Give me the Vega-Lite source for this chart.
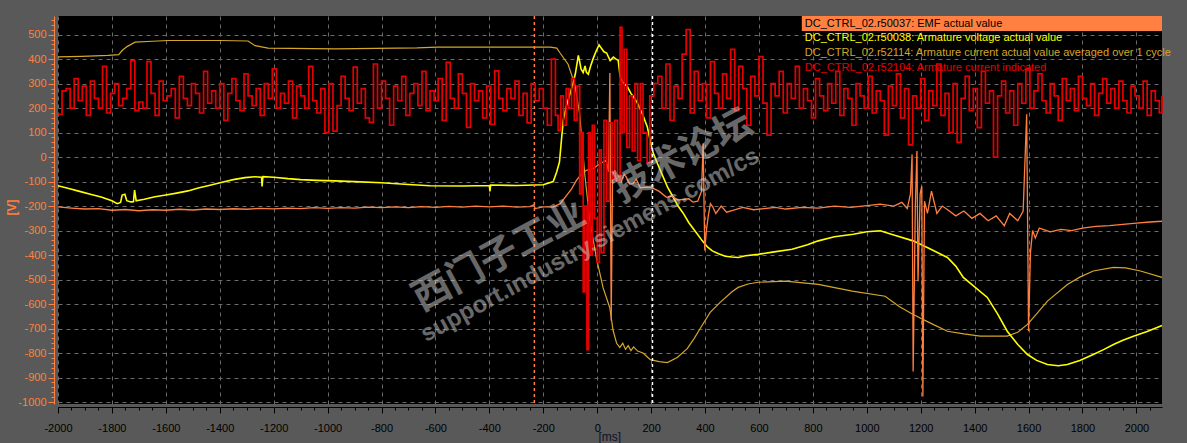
{
  "$schema": "https://vega.github.io/schema/vega-lite/v6.json",
  "width": 1104,
  "height": 388,
  "autosize": {"type": "none"},
  "padding": {"left": 58, "top": 16, "right": 25, "bottom": 39},
  "background": "#595959",
  "config": {
    "view": {"fill": "#000000", "stroke": null},
    "axis": {"labelFont": "Liberation Sans", "titleFont": "Liberation Sans"},
    "text": {"font": "Liberation Sans"}
  },
  "resolve": {"axis": {"x": "independent", "y": "independent"}},
  "datasets": {
    "avg": [
      {"t":-2000,"v":409},{"t":-1911,"v":411},{"t":-1814,"v":415},{"t":-1775,"v":418},{"t":-1762,"v":435},{"t":-1744,"v":451},{"t":-1714,"v":469},{"t":-1650,"v":473},{"t":-1592,"v":476},{"t":-1400,"v":476},{"t":-1295,"v":474},{"t":-1269,"v":455},{"t":-1221,"v":445},{"t":-972,"v":442},{"t":-668,"v":446},{"t":-594,"v":449},{"t":-174,"v":449},{"t":-150,"v":445},{"t":-139,"v":427},{"t":-108,"v":379},{"t":-83,"v":297},{"t":-65,"v":175},{"t":-46,"v":-71},{"t":-27,"v":-262},{"t":-3,"v":-411},{"t":22,"v":-534},{"t":47,"v":-616},{"t":59,"v":-708},{"t":72,"v":-760},{"t":84,"v":-777},{"t":95,"v":-760},{"t":105,"v":-785},{"t":115,"v":-770},{"t":125,"v":-790},{"t":135,"v":-775},{"t":150,"v":-792},{"t":170,"v":-800},{"t":185,"v":-815},{"t":197,"v":-827},{"t":230,"v":-835},{"t":260,"v":-839},{"t":297,"v":-818},{"t":334,"v":-782},{"t":360,"v":-740},{"t":382,"v":-700},{"t":419,"v":-634},{"t":456,"v":-593},{"t":500,"v":-550},{"t":523,"v":-532},{"t":560,"v":-518},{"t":597,"v":-511},{"t":698,"v":-506},{"t":820,"v":-520},{"t":946,"v":-547},{"t":1068,"v":-568},{"t":1120,"v":-610},{"t":1172,"v":-643},{"t":1240,"v":-680},{"t":1299,"v":-711},{"t":1360,"v":-722},{"t":1421,"v":-731},{"t":1521,"v":-731},{"t":1560,"v":-715},{"t":1596,"v":-683},{"t":1630,"v":-640},{"t":1670,"v":-588},{"t":1744,"v":-520},{"t":1790,"v":-490},{"t":1840,"v":-465},{"t":1915,"v":-450},{"t":1960,"v":-452},{"t":2015,"v":-465},{"t":2095,"v":-491}
    ],
    "volt": [
      {"t":-2000,"v":-117},{"t":-1960,"v":-128},{"t":-1920,"v":-140},{"t":-1880,"v":-152},{"t":-1840,"v":-163},{"t":-1800,"v":-178},{"t":-1780,"v":-190},{"t":-1768,"v":-185},{"t":-1762,"v":-155},{"t":-1752,"v":-152},{"t":-1745,"v":-178},{"t":-1730,"v":-183},{"t":-1720,"v":-182},{"t":-1716,"v":-135},{"t":-1710,"v":-178},{"t":-1680,"v":-172},{"t":-1640,"v":-162},{"t":-1600,"v":-155},{"t":-1560,"v":-147},{"t":-1518,"v":-138},{"t":-1480,"v":-126},{"t":-1440,"v":-116},{"t":-1391,"v":-103},{"t":-1350,"v":-92},{"t":-1306,"v":-84},{"t":-1270,"v":-80},{"t":-1245,"v":-82},{"t":-1243,"v":-120},{"t":-1240,"v":-80},{"t":-1200,"v":-82},{"t":-1147,"v":-88},{"t":-1100,"v":-92},{"t":-1040,"v":-95},{"t":-973,"v":-97},{"t":-900,"v":-100},{"t":-800,"v":-105},{"t":-700,"v":-112},{"t":-620,"v":-117},{"t":-500,"v":-118},{"t":-400,"v":-116},{"t":-398,"v":-140},{"t":-395,"v":-114},{"t":-300,"v":-116},{"t":-200,"v":-113},{"t":-163,"v":-100},{"t":-150,"v":-60},{"t":-140,"v":-20},{"t":-126,"v":150},{"t":-114,"v":210},{"t":-100,"v":262},{"t":-90,"v":300},{"t":-81,"v":340},{"t":-70,"v":415},{"t":-65,"v":390},{"t":-60,"v":360},{"t":-52,"v":345},{"t":-45,"v":372},{"t":-40,"v":346},{"t":-33,"v":338},{"t":-25,"v":370},{"t":-15,"v":402},{"t":-5,"v":430},{"t":7,"v":458},{"t":15,"v":445},{"t":25,"v":430},{"t":35,"v":425},{"t":48,"v":394},{"t":60,"v":408},{"t":70,"v":400},{"t":78,"v":395},{"t":85,"v":330},{"t":95,"v":305},{"t":112,"v":287},{"t":125,"v":260},{"t":135,"v":245},{"t":149,"v":221},{"t":170,"v":170},{"t":186,"v":123},{"t":200,"v":50},{"t":208,"v":16},{"t":225,"v":-30},{"t":245,"v":-82},{"t":262,"v":-125},{"t":282,"v":-164},{"t":300,"v":-200},{"t":319,"v":-229},{"t":340,"v":-268},{"t":365,"v":-305},{"t":390,"v":-342},{"t":410,"v":-368},{"t":427,"v":-383},{"t":450,"v":-395},{"t":475,"v":-405},{"t":500,"v":-408},{"t":523,"v":-410},{"t":550,"v":-403},{"t":597,"v":-397},{"t":650,"v":-388},{"t":723,"v":-376},{"t":780,"v":-358},{"t":820,"v":-342},{"t":880,"v":-325},{"t":950,"v":-315},{"t":1000,"v":-305},{"t":1050,"v":-301},{"t":1100,"v":-318},{"t":1172,"v":-342},{"t":1230,"v":-372},{"t":1299,"v":-410},{"t":1330,"v":-445},{"t":1358,"v":-491},{"t":1400,"v":-530},{"t":1447,"v":-573},{"t":1485,"v":-640},{"t":1521,"v":-711},{"t":1560,"v":-765},{"t":1596,"v":-806},{"t":1630,"v":-830},{"t":1670,"v":-847},{"t":1710,"v":-852},{"t":1744,"v":-847},{"t":1790,"v":-830},{"t":1840,"v":-806},{"t":1880,"v":-785},{"t":1915,"v":-765},{"t":1950,"v":-748},{"t":1989,"v":-731},{"t":2040,"v":-712},{"t":2095,"v":-688}
    ],
    "emf": [
      {"t":-2000,"v":-203},{"t":-1950,"v":-208},{"t":-1900,"v":-212},{"t":-1850,"v":-210},{"t":-1800,"v":-217},{"t":-1750,"v":-214},{"t":-1700,"v":-219},{"t":-1650,"v":-215},{"t":-1600,"v":-217},{"t":-1550,"v":-213},{"t":-1500,"v":-216},{"t":-1450,"v":-212},{"t":-1400,"v":-214},{"t":-1350,"v":-211},{"t":-1300,"v":-213},{"t":-1250,"v":-209},{"t":-1200,"v":-211},{"t":-1150,"v":-208},{"t":-1100,"v":-210},{"t":-1050,"v":-206},{"t":-1000,"v":-209},{"t":-950,"v":-206},{"t":-900,"v":-208},{"t":-850,"v":-204},{"t":-800,"v":-206},{"t":-750,"v":-203},{"t":-700,"v":-206},{"t":-650,"v":-202},{"t":-600,"v":-205},{"t":-550,"v":-201},{"t":-500,"v":-204},{"t":-450,"v":-200},{"t":-400,"v":-203},{"t":-350,"v":-200},{"t":-300,"v":-204},{"t":-250,"v":-202},{"t":-235,"v":-195},{"t":-230,"v":-210},{"t":-200,"v":-203},{"t":-185,"v":-203},{"t":-164,"v":-204},{"t":-137,"v":-190},{"t":-114,"v":-157},{"t":-95,"v":-130},{"t":-77,"v":-95},{"t":-58,"v":-68},{"t":-40,"v":-54},{"t":-15,"v":-47},{"t":10,"v":-27},{"t":34,"v":-13},{"t":42,"v":-60},{"t":47,"v":343},{"t":52,"v":-668},{"t":57,"v":-70},{"t":65,"v":-60},{"t":71,"v":-95},{"t":80,"v":-75},{"t":90,"v":-100},{"t":100,"v":-70},{"t":108,"v":-82},{"t":120,"v":-110},{"t":132,"v":-108},{"t":145,"v":-90},{"t":160,"v":-125},{"t":183,"v":-123},{"t":201,"v":-124},{"t":230,"v":-140},{"t":257,"v":-164},{"t":275,"v":-159},{"t":300,"v":-175},{"t":340,"v":-170},{"t":355,"v":-184},{"t":373,"v":-180},{"t":387,"v":-139},{"t":393,"v":56},{"t":399,"v":-381},{"t":405,"v":-300},{"t":412,"v":-240},{"t":420,"v":-190},{"t":429,"v":-204},{"t":440,"v":-230},{"t":460,"v":-200},{"t":480,"v":-225},{"t":503,"v":-218},{"t":540,"v":-205},{"t":580,"v":-215},{"t":620,"v":-210},{"t":660,"v":-205},{"t":700,"v":-212},{"t":760,"v":-205},{"t":820,"v":-208},{"t":880,"v":-200},{"t":940,"v":-205},{"t":1000,"v":-198},{"t":1050,"v":-192},{"t":1100,"v":-200},{"t":1130,"v":-185},{"t":1150,"v":-210},{"t":1162,"v":-150},{"t":1168,"v":11},{"t":1172,"v":-875},{"t":1180,"v":-200},{"t":1186,"v":25},{"t":1190,"v":-507},{"t":1198,"v":-150},{"t":1204,"v":-119},{"t":1208,"v":-977},{"t":1214,"v":-180},{"t":1225,"v":-230},{"t":1240,"v":-139},{"t":1260,"v":-230},{"t":1280,"v":-200},{"t":1300,"v":-215},{"t":1330,"v":-240},{"t":1360,"v":-220},{"t":1390,"v":-250},{"t":1420,"v":-230},{"t":1450,"v":-260},{"t":1480,"v":-240},{"t":1510,"v":-280},{"t":1530,"v":-230},{"t":1560,"v":-260},{"t":1580,"v":-220},{"t":1593,"v":175},{"t":1600,"v":-711},{"t":1607,"v":-390},{"t":1615,"v":-300},{"t":1625,"v":-330},{"t":1640,"v":-290},{"t":1680,"v":-305},{"t":1720,"v":-295},{"t":1760,"v":-300},{"t":1800,"v":-290},{"t":1850,"v":-283},{"t":1900,"v":-280},{"t":1950,"v":-275},{"t":2000,"v":-270},{"t":2050,"v":-265},{"t":2095,"v":-262}
    ],
    "cur": [
      {"t":-2000,"v":175},{"t":-1985,"v":270},{"t":-1970,"v":280},{"t":-1955,"v":200},{"t":-1940,"v":320},{"t":-1925,"v":230},{"t":-1910,"v":290},{"t":-1895,"v":170},{"t":-1880,"v":310},{"t":-1865,"v":240},
      {"t":-1850,"v":200},{"t":-1835,"v":370},{"t":-1820,"v":180},{"t":-1805,"v":260},{"t":-1790,"v":300},{"t":-1775,"v":210},{"t":-1760,"v":240},{"t":-1745,"v":280},{"t":-1730,"v":394},{"t":-1715,"v":190},
      {"t":-1700,"v":225},{"t":-1685,"v":200},{"t":-1670,"v":390},{"t":-1655,"v":260},{"t":-1640,"v":170},{"t":-1625,"v":310},{"t":-1610,"v":230},{"t":-1595,"v":250},{"t":-1580,"v":280},{"t":-1565,"v":160},
      {"t":-1550,"v":330},{"t":-1535,"v":240},{"t":-1520,"v":210},{"t":-1505,"v":300},{"t":-1490,"v":260},{"t":-1475,"v":180},{"t":-1460,"v":350},{"t":-1445,"v":220},{"t":-1430,"v":270},{"t":-1415,"v":200},
      {"t":-1400,"v":300},{"t":-1385,"v":150},{"t":-1370,"v":260},{"t":-1355,"v":320},{"t":-1340,"v":230},{"t":-1325,"v":190},{"t":-1310,"v":340},{"t":-1295,"v":250},{"t":-1280,"v":210},{"t":-1265,"v":280},
      {"t":-1250,"v":170},{"t":-1235,"v":300},{"t":-1220,"v":240},{"t":-1205,"v":360},{"t":-1190,"v":200},{"t":-1175,"v":260},{"t":-1160,"v":220},{"t":-1145,"v":310},{"t":-1130,"v":160},{"t":-1115,"v":290},
      {"t":-1100,"v":250},{"t":-1085,"v":200},{"t":-1070,"v":370},{"t":-1055,"v":230},{"t":-1040,"v":180},{"t":-1025,"v":280},{"t":-1010,"v":100},{"t":-995,"v":300},{"t":-980,"v":106},{"t":-965,"v":210},
      {"t":-950,"v":330},{"t":-935,"v":240},{"t":-920,"v":190},{"t":-905,"v":367},{"t":-890,"v":220},{"t":-875,"v":280},{"t":-860,"v":160},{"t":-845,"v":142},{"t":-830,"v":380},{"t":-815,"v":200},
      {"t":-800,"v":310},{"t":-785,"v":240},{"t":-770,"v":130},{"t":-755,"v":290},{"t":-740,"v":230},{"t":-725,"v":330},{"t":-710,"v":170},{"t":-695,"v":260},{"t":-680,"v":300},{"t":-665,"v":210},
      {"t":-650,"v":350},{"t":-635,"v":190},{"t":-620,"v":270},{"t":-605,"v":230},{"t":-590,"v":320},{"t":-575,"v":150},{"t":-560,"v":387},{"t":-545,"v":240},{"t":-530,"v":200},{"t":-515,"v":340},
      {"t":-500,"v":260},{"t":-485,"v":121},{"t":-470,"v":300},{"t":-455,"v":230},{"t":-440,"v":270},{"t":-425,"v":160},{"t":-410,"v":290},{"t":-395,"v":134},{"t":-380,"v":352},{"t":-365,"v":240},
      {"t":-350,"v":190},{"t":-335,"v":280},{"t":-320,"v":240},{"t":-305,"v":310},{"t":-290,"v":170},{"t":-275,"v":260},{"t":-260,"v":140},{"t":-245,"v":300},{"t":-230,"v":230},{"t":-215,"v":280},
      {"t":-200,"v":200},{"t":-185,"v":130},{"t":-170,"v":400},{"t":-155,"v":170},
      {"t":-145,"v":108},{"t":-135,"v":250},{"t":-125,"v":130},{"t":-115,"v":280},{"t":-105,"v":200},{"t":-95,"v":320},{"t":-85,"v":150},{"t":-75,"v":290},{"t":-65,"v":-150},{"t":-58,"v":100},
      {"t":-52,"v":-550},{"t":-46,"v":-200},{"t":-38,"v":-786},{"t":-32,"v":100},{"t":-25,"v":-400},{"t":-18,"v":130},{"t":-10,"v":-250},{"t":0,"v":-430},{"t":8,"v":30},{"t":15,"v":-390},
      {"t":25,"v":150},{"t":35,"v":-180},{"t":45,"v":140},{"t":55,"v":-90},{"t":65,"v":150},{"t":75,"v":-95},{"t":85,"v":530},{"t":92,"v":100},{"t":100,"v":440},{"t":110,"v":40},
      {"t":120,"v":250},{"t":130,"v":25},{"t":140,"v":300},{"t":150,"v":-15},{"t":160,"v":300},{"t":170,"v":100},{"t":185,"v":-22},{"t":195,"v":250},{"t":210,"v":300},
      {"t":225,"v":330},{"t":240,"v":200},{"t":255,"v":380},{"t":270,"v":150},{"t":285,"v":290},{"t":300,"v":240},{"t":315,"v":420},{"t":330,"v":520},{"t":345,"v":180},{"t":360,"v":350},
      {"t":375,"v":230},{"t":390,"v":300},{"t":405,"v":160},{"t":420,"v":390},{"t":435,"v":260},{"t":450,"v":200},{"t":465,"v":340},{"t":480,"v":240},{"t":495,"v":440},{"t":510,"v":190},
      {"t":525,"v":370},{"t":540,"v":280},{"t":555,"v":130},{"t":570,"v":330},{"t":585,"v":250},{"t":600,"v":410},{"t":615,"v":220},{"t":630,"v":90},{"t":645,"v":300},{"t":660,"v":250},
      {"t":675,"v":350},{"t":690,"v":180},{"t":705,"v":300},{"t":720,"v":240},{"t":735,"v":370},{"t":750,"v":200},{"t":765,"v":280},{"t":780,"v":230},{"t":795,"v":160},{"t":810,"v":320},
      {"t":825,"v":250},{"t":840,"v":190},{"t":855,"v":300},{"t":870,"v":220},{"t":885,"v":350},{"t":900,"v":170},{"t":915,"v":280},{"t":930,"v":240},{"t":945,"v":130},{"t":960,"v":300},
      {"t":975,"v":250},{"t":990,"v":200},{"t":1005,"v":330},{"t":1020,"v":180},{"t":1035,"v":270},{"t":1050,"v":230},{"t":1065,"v":90},{"t":1080,"v":290},{"t":1095,"v":210},{"t":1110,"v":340},
      {"t":1125,"v":160},{"t":1140,"v":280},{"t":1155,"v":50},{"t":1170,"v":250},{"t":1185,"v":200},{"t":1200,"v":320},{"t":1215,"v":150},{"t":1230,"v":270},{"t":1245,"v":210},{"t":1260,"v":380},
      {"t":1275,"v":170},{"t":1290,"v":260},{"t":1305,"v":100},{"t":1320,"v":300},{"t":1335,"v":60},{"t":1350,"v":240},{"t":1365,"v":330},{"t":1380,"v":190},{"t":1395,"v":280},{"t":1410,"v":120},
      {"t":1425,"v":350},{"t":1440,"v":220},{"t":1455,"v":270},{"t":1470,"v":0},{"t":1485,"v":250},{"t":1500,"v":310},{"t":1515,"v":180},{"t":1530,"v":270},{"t":1545,"v":130},{"t":1560,"v":300},
      {"t":1575,"v":220},{"t":1590,"v":360},{"t":1605,"v":200},{"t":1620,"v":270},{"t":1635,"v":340},{"t":1650,"v":230},{"t":1665,"v":180},{"t":1680,"v":300},{"t":1695,"v":250},{"t":1710,"v":150},
      {"t":1725,"v":320},{"t":1740,"v":230},{"t":1755,"v":280},{"t":1770,"v":190},{"t":1785,"v":330},{"t":1800,"v":240},{"t":1815,"v":210},{"t":1830,"v":300},{"t":1845,"v":170},{"t":1860,"v":260},
      {"t":1875,"v":320},{"t":1890,"v":220},{"t":1905,"v":280},{"t":1920,"v":200},{"t":1935,"v":310},{"t":1950,"v":230},{"t":1965,"v":180},{"t":1980,"v":290},{"t":1995,"v":250},{"t":2010,"v":200},
      {"t":2025,"v":310},{"t":2040,"v":170},{"t":2055,"v":270},{"t":2070,"v":230},{"t":2085,"v":180},{"t":2095,"v":250}
    ],
    "cursors": [{"t":-233,"cursor":"A"},{"t":205,"cursor":"B"}],
    "legend": [
      {"key":"emf","label":"DC_CTRL_02.r50037: EMF actual value"},
      {"key":"volt","label":"DC_CTRL_02.r50038: Armature voltage actual value"},
      {"key":"avg","label":"DC_CTRL_02.r52114: Armature current actual value averaged over 1 cycle"},
      {"key":"cur","label":"DC_CTRL_02.r52104: Armature current indicated"}
    ]
  },
  "layer": [
    {
      "data": {"name": "avg"},
      "mark": {"type": "line", "color": "#D4A62A", "strokeWidth": 1.2, "interpolate": "linear"},
      "encoding": {
        "x": {"field": "t", "type": "quantitative",
          "scale": {"domain": [-2000, 2095], "nice": false, "zero": false},
          "axis": {"orient": "bottom", "offset": 3, "values": [-2000,-1800,-1600,-1400,-1200,-1000,-800,-600,-400,-200,0,200,400,600,800,1000,1200,1400,1600,1800,2000],
            "labelExpr": "'' + datum.value",
            "tickSize": 6, "tickColor": "#000000", "domainColor": "#000000", "labelColor": "#000000", "labelFontSize": 11, "labelPadding": 9,
            "labelFlush": false, "labelOverlap": false,
            "grid": true, "gridColor": "#6a6a6a", "gridDash": [4, 4], "gridWidth": 1,
            "title": "[ms]", "titleX": 540, "titleY": 24, "titleAlign": "left", "titleBaseline": "top", "titleFontSize": 12, "titleFontWeight": "normal", "titleColor": "#10102a"}},
        "y": {"field": "v", "type": "quantitative",
          "scale": {"domain": [-1008, 576], "nice": false, "zero": false},
          "axis": {"orient": "left", "offset": 4, "values": [-1000,-900,-800,-700,-600,-500,-400,-300,-200,-100,0,100,200,300,400,500],
            "labelExpr": "'' + datum.value",
            "tickSize": 6, "tickColor": "#FF8040", "domainColor": "#FF8040", "labelColor": "#FF8040", "labelFontSize": 11, "labelPadding": 2,
            "labelFlush": false, "labelOverlap": false,
            "grid": true, "gridColor": "#6a6a6a", "gridDash": [4, 4], "gridWidth": 1,
            "title": "[V]", "titleX": -43, "titleY": 191, "titleAngle": -90, "titleAlign": "center", "titleBaseline": "middle", "titleFontSize": 12, "titleFontWeight": "bold", "titleColor": "#FF8040"}}
      }
    },
    {
      "data": {"name": "volt"},
      "mark": {"type": "line", "color": "#FFFF00", "strokeWidth": 1.6, "interpolate": "linear"},
      "encoding": {
        "x": {"field": "t", "type": "quantitative",
          "axis": {"orient": "bottom", "offset": 3, "tickCount": 82, "tickSize": 3, "tickColor": "#000000", "labels": false, "domain": false, "grid": false, "title": null}},
        "y": {"field": "v", "type": "quantitative",
          "axis": {"orient": "left", "offset": 4, "tickCount": 80, "tickSize": 3, "tickColor": "#FF8040", "labels": false, "domain": false, "grid": false, "title": null}}
      }
    },
    {
      "data": {"name": "emf"},
      "mark": {"type": "line", "color": "#FF7F3F", "strokeWidth": 1.3, "interpolate": "linear"},
      "encoding": {
        "x": {"field": "t", "type": "quantitative", "axis": null},
        "y": {"field": "v", "type": "quantitative", "axis": null}
      }
    },
    {
      "data": {"name": "cursors"},
      "mark": {"type": "rule", "strokeDash": [3, 3], "strokeWidth": 1.5},
      "encoding": {
        "x": {"field": "t", "type": "quantitative", "axis": null},
        "color": {"field": "cursor", "type": "nominal", "scale": {"domain": ["A", "B"], "range": ["#FF8040", "#FFFFFF"]}, "legend": null}
      }
    },
    {
      "data": {"name": "legend"},
      "transform": [{"filter": "datum.key === 'emf'"}],
      "mark": {"type": "rect", "color": "#FF8040"},
      "encoding": {
        "x": {"datum": 759, "type": "quantitative", "axis": null},
        "x2": {"datum": 2095},
        "y": {"datum": 576, "type": "quantitative", "axis": null},
        "y2": {"datum": 515}
      }
    },
    {
      "data": {"name": "legend"},
      "transform": [{"filter": "datum.key === 'emf'"}],
      "mark": {"type": "text", "align": "left", "baseline": "middle", "fontSize": 11, "color": "#000000"},
      "encoding": {
        "x": {"datum": 770, "type": "quantitative", "axis": null},
        "y": {"datum": 545, "type": "quantitative", "axis": null},
        "text": {"field": "label"}
      }
    },
    {
      "data": {"name": "legend"},
      "transform": [{"filter": "datum.key === 'volt'"}],
      "mark": {"type": "text", "align": "left", "baseline": "middle", "fontSize": 11, "color": "#FFFF00"},
      "encoding": {
        "x": {"datum": 770, "type": "quantitative", "axis": null},
        "y": {"datum": 488, "type": "quantitative", "axis": null},
        "text": {"field": "label"}
      }
    },
    {
      "data": {"name": "legend"},
      "transform": [{"filter": "datum.key === 'avg'"}],
      "mark": {"type": "text", "align": "left", "baseline": "middle", "fontSize": 11, "color": "#D4A62A"},
      "encoding": {
        "x": {"datum": 770, "type": "quantitative", "axis": null},
        "y": {"datum": 425, "type": "quantitative", "axis": null},
        "text": {"field": "label"}
      }
    },
    {
      "data": {"name": "legend"},
      "transform": [{"filter": "datum.key === 'cur'"}],
      "mark": {"type": "text", "align": "left", "baseline": "middle", "fontSize": 11, "color": "#E60000"},
      "encoding": {
        "x": {"datum": 770, "type": "quantitative", "axis": null},
        "y": {"datum": 365, "type": "quantitative", "axis": null},
        "text": {"field": "label"}
      }
    },
    {
      "data": {"name": "cur"},
      "mark": {"type": "line", "color": "#E60000", "strokeWidth": 1.7, "interpolate": "step-after"},
      "encoding": {
        "x": {"field": "t", "type": "quantitative", "axis": null},
        "y": {"field": "v", "type": "quantitative", "axis": null}
      }
    },
    {
      "data": {"values": [{"label": "西门子工业　技术论坛"}]},
      "mark": {"type": "text", "font": "Noto Sans CJK SC", "fontSize": 38, "fontWeight": "bold", "angle": -28.5, "color": "#d0d0d0", "opacity": 0.5, "align": "center", "baseline": "middle"},
      "encoding": {
        "x": {"datum": -53, "type": "quantitative", "axis": null},
        "y": {"datum": -222, "type": "quantitative", "axis": null},
        "text": {"field": "label"}
      }
    },
    {
      "data": {"values": [{"label": "support.industry.siemens.com/cs"}]},
      "mark": {"type": "text", "font": "Liberation Sans", "fontSize": 24, "fontWeight": "bold", "angle": -28.5, "color": "#d0d0d0", "opacity": 0.5, "align": "center", "baseline": "middle"},
      "encoding": {
        "x": {"datum": -26, "type": "quantitative", "axis": null},
        "y": {"datum": -360, "type": "quantitative", "axis": null},
        "text": {"field": "label"}
      }
    }
  ]
}
